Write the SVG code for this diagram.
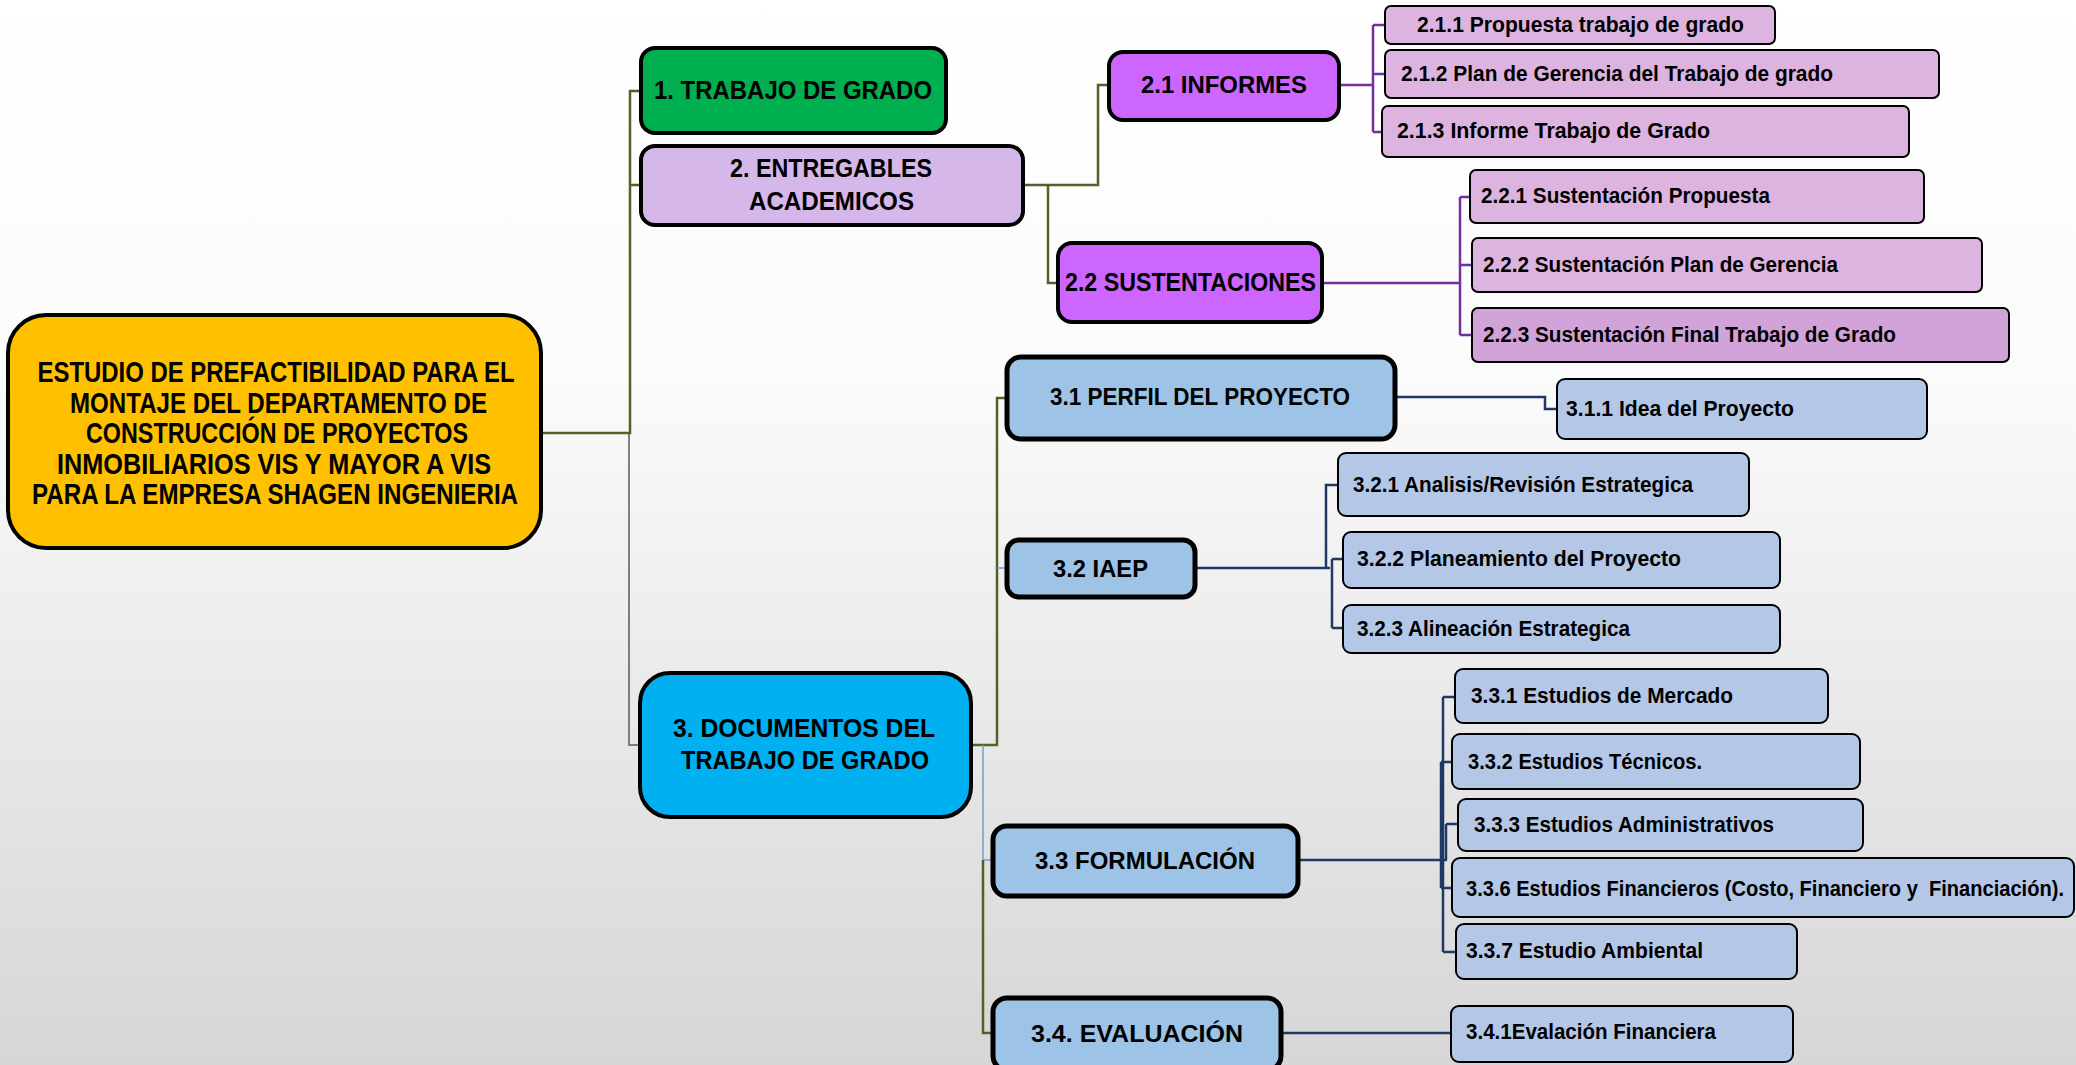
<svg xmlns="http://www.w3.org/2000/svg" width="2076" height="1065" viewBox="0 0 2076 1065">
<defs>
<linearGradient id="bg" x1="0" y1="0" x2="0" y2="1">
<stop offset="0" stop-color="#FFFFFF"/>
<stop offset="0.35" stop-color="#FBFBFB"/>
<stop offset="1" stop-color="#D6D6D6"/>
</linearGradient>
<style>
text{font-family:"Liberation Sans",Arial,sans-serif;font-weight:bold;fill:#000;}
.box{stroke:#000;}
.l0{stroke-width:4;}
.l1{stroke-width:4;}
.l2{stroke-width:5;}
.lf{stroke-width:2;}
.c{fill:none;}
.gr{stroke:#4F6228;stroke-width:2.5;}
.gy{stroke:#595959;stroke-width:1.5;}
.pu{stroke:#7030A0;stroke-width:2.5;}
.nv{stroke:#1F3864;stroke-width:2.5;}
.lb{stroke:#6FA0D0;stroke-width:1.5;}
.t30{font-size:30px;}
.t26{font-size:26px;}
.t25{font-size:25px;}
.t24{font-size:24px;}
.t23{font-size:23px;}
.t21{font-size:21.5px;}
</style>
</defs>
<rect x="0" y="0" width="2076" height="1065" fill="url(#bg)"/>

<g id="connectors" class="c">
<path class="gr" d="M541,433 H630 V91 H641"/>
<path class="gy" d="M629,433 V745 H640"/>
<path class="gr" stroke="#76923C" d="M630,185 H641"/>
<path class="gr" d="M1023,185 H1098 V85 H1109"/>
<path class="gr" d="M1048,185 V283 H1058"/>
<path class="pu" d="M1339,85 H1373"/>
<path class="pu" d="M1373,25 V132"/>
<path class="pu" d="M1373,25 H1385 M1373,74 H1385 M1373,132 H1382"/>
<path class="pu" d="M1322,283 H1460"/>
<path class="pu" d="M1460,197 V335"/>
<path class="pu" d="M1460,197 H1470 M1460,265 H1472 M1460,335 H1472"/>
<path class="gr" d="M971,745 H997 V398 H1007"/>
<path class="lb" d="M997,568 H1007"/>
<path class="lb" d="M983,745 V860 H993"/>
<path class="gr" d="M983,860 V1033 H993"/>
<path class="nv" d="M1395,397 H1545 V409 H1557"/>
<path class="nv" d="M1195,568 H1330"/>
<path class="nv" d="M1326,568 V485 H1338"/>
<path class="nv" d="M1332,559 V628"/>
<path class="nv" d="M1332,559 H1343 M1332,628 H1343"/>
<path class="nv" d="M1297,860 H1447"/>
<path class="nv" d="M1443,697 V952"/>
<path class="nv" d="M1441,762 V888"/>
<path class="nv" d="M1446,824 V860"/>
<path class="nv" d="M1443,697 H1455 M1441,762 H1452 M1446,824 H1458 M1441,888 H1452 M1443,952 H1456"/>
<path class="nv" stroke="#2F4B7C" stroke-width="2" d="M1281,1033 H1451"/>
</g>

<g id="root">
<rect class="box l0" x="8" y="315" width="533" height="233" rx="38" fill="#FFC000"/>
<text class="t30" x="37.5" y="382" textLength="477" lengthAdjust="spacingAndGlyphs">ESTUDIO DE PREFACTIBILIDAD PARA EL</text>
<text class="t30" x="70" y="412.5" textLength="417" lengthAdjust="spacingAndGlyphs">MONTAJE DEL DEPARTAMENTO DE</text>
<text class="t30" x="86" y="443" textLength="382" lengthAdjust="spacingAndGlyphs">CONSTRUCCIÓN DE PROYECTOS</text>
<text class="t30" x="57" y="473.5" textLength="434" lengthAdjust="spacingAndGlyphs">INMOBILIARIOS VIS Y MAYOR A VIS</text>
<text class="t30" x="32" y="504" textLength="486" lengthAdjust="spacingAndGlyphs">PARA LA EMPRESA SHAGEN INGENIERIA</text>
</g>

<g id="n1">
<rect class="box l1" x="641" y="48" width="305" height="85" rx="14" fill="#00B050"/>
<text class="t26" x="654" y="99" textLength="278" lengthAdjust="spacingAndGlyphs">1. TRABAJO DE GRADO</text>
</g>

<g id="n2">
<rect class="box l1" x="641" y="146" width="382" height="79" rx="14" fill="#D5B7EA"/>
<text class="t25" x="730" y="177" textLength="202" lengthAdjust="spacingAndGlyphs">2. ENTREGABLES</text>
<text class="t25" x="749" y="210" textLength="165" lengthAdjust="spacingAndGlyphs">ACADEMICOS</text>
</g>

<g id="n2-1">
<rect class="box l1" x="1109" y="52" width="230" height="68" rx="14" fill="#CC66FF"/>
<text class="t24" x="1141" y="93" textLength="166" lengthAdjust="spacingAndGlyphs">2.1 INFORMES</text>
</g>

<g id="n2-2">
<rect class="box l1" x="1058" y="243" width="264" height="79" rx="14" fill="#CC66FF"/>
<text class="t25" x="1065" y="291" textLength="251" lengthAdjust="spacingAndGlyphs">2.2 SUSTENTACIONES</text>
</g>

<g id="n2-1-1">
<rect class="box lf" x="1385" y="6" width="390" height="38" rx="6" fill="#DCB4DF"/>
<text class="t21" x="1417" y="32" textLength="327" lengthAdjust="spacingAndGlyphs">2.1.1 Propuesta trabajo de grado</text>
</g>
<g id="n2-1-2">
<rect class="box lf" x="1385" y="50" width="554" height="48" rx="6" fill="#DCB4DF"/>
<text class="t21" x="1401" y="81" textLength="432" lengthAdjust="spacingAndGlyphs">2.1.2 Plan de Gerencia del Trabajo de grado</text>
</g>
<g id="n2-1-3">
<rect class="box lf" x="1382" y="106" width="527" height="51" rx="6" fill="#DCB4DF"/>
<text class="t21" x="1397" y="138" textLength="313" lengthAdjust="spacingAndGlyphs">2.1.3 Informe Trabajo de Grado</text>
</g>
<g id="n2-2-1">
<rect class="box lf" x="1470" y="170" width="454" height="53" rx="6" fill="#DCB4DF"/>
<text class="t21" x="1481" y="203" textLength="289" lengthAdjust="spacingAndGlyphs">2.2.1 Sustentación Propuesta</text>
</g>
<g id="n2-2-2">
<rect class="box lf" x="1472" y="238" width="510" height="54" rx="6" fill="#DCB4DF"/>
<text class="t21" x="1483" y="272" textLength="355" lengthAdjust="spacingAndGlyphs">2.2.2 Sustentación Plan de Gerencia</text>
</g>
<g id="n2-2-3">
<rect class="box lf" x="1472" y="308" width="537" height="54" rx="6" fill="#D1A3D8"/>
<text class="t21" x="1483" y="342" textLength="413" lengthAdjust="spacingAndGlyphs">2.2.3 Sustentación Final Trabajo de Grado</text>
</g>

<g id="n3">
<rect class="box l1" x="640" y="673" width="331" height="144" rx="30" fill="#00B0F0"/>
<text class="t25" x="673" y="737" textLength="262" lengthAdjust="spacingAndGlyphs">3. DOCUMENTOS DEL</text>
<text class="t25" x="681" y="769" textLength="248" lengthAdjust="spacingAndGlyphs">TRABAJO DE GRADO</text>
</g>

<g id="n3-1">
<rect class="box l2" x="1007" y="357" width="388" height="82" rx="14" fill="#9DC3E6"/>
<text class="t23" x="1050" y="405" textLength="300" lengthAdjust="spacingAndGlyphs">3.1 PERFIL DEL PROYECTO</text>
</g>
<g id="n3-2">
<rect class="box l2" x="1007" y="540" width="188" height="57" rx="12" fill="#9DC3E6"/>
<text class="t23" x="1053" y="577" textLength="95" lengthAdjust="spacingAndGlyphs">3.2 IAEP</text>
</g>
<g id="n3-3">
<rect class="box l2" x="993" y="826" width="305" height="70" rx="14" fill="#9DC3E6"/>
<text class="t23" x="1035" y="869" textLength="220" lengthAdjust="spacingAndGlyphs">3.3 FORMULACIÓN</text>
</g>
<g id="n3-4">
<rect class="box l2" x="993" y="998" width="288" height="72" rx="14" fill="#9DC3E6"/>
<text class="t23" x="1031" y="1042" textLength="212" lengthAdjust="spacingAndGlyphs">3.4. EVALUACIÓN</text>
</g>

<g id="n3-1-1">
<rect class="box lf" x="1557" y="379" width="370" height="60" rx="8" fill="#B4C7E7"/>
<text class="t21" x="1566" y="416" textLength="228" lengthAdjust="spacingAndGlyphs">3.1.1 Idea del Proyecto</text>
</g>
<g id="n3-2-1">
<rect class="box lf" x="1338" y="453" width="411" height="63" rx="8" fill="#B4C7E7"/>
<text class="t21" x="1353" y="492" textLength="340" lengthAdjust="spacingAndGlyphs">3.2.1 Analisis/Revisión Estrategica</text>
</g>
<g id="n3-2-2">
<rect class="box lf" x="1343" y="532" width="437" height="56" rx="8" fill="#B4C7E7"/>
<text class="t21" x="1357" y="566" textLength="324" lengthAdjust="spacingAndGlyphs">3.2.2 Planeamiento del Proyecto</text>
</g>
<g id="n3-2-3">
<rect class="box lf" x="1343" y="605" width="437" height="48" rx="8" fill="#B4C7E7"/>
<text class="t21" x="1357" y="636" textLength="273" lengthAdjust="spacingAndGlyphs">3.2.3 Alineación Estrategica</text>
</g>
<g id="n3-3-1">
<rect class="box lf" x="1455" y="669" width="373" height="54" rx="8" fill="#B4C7E7"/>
<text class="t21" x="1471" y="703" textLength="262" lengthAdjust="spacingAndGlyphs">3.3.1 Estudios de Mercado</text>
</g>
<g id="n3-3-2">
<rect class="box lf" x="1452" y="734" width="408" height="55" rx="8" fill="#B4C7E7"/>
<text class="t21" x="1468" y="769" textLength="234" lengthAdjust="spacingAndGlyphs">3.3.2 Estudios Técnicos.</text>
</g>
<g id="n3-3-3">
<rect class="box lf" x="1458" y="799" width="405" height="52" rx="8" fill="#B4C7E7"/>
<text class="t21" x="1474" y="832" textLength="300" lengthAdjust="spacingAndGlyphs">3.3.3 Estudios Administrativos</text>
</g>
<g id="n3-3-6">
<rect class="box lf" x="1452" y="858" width="622" height="59" rx="8" fill="#B4C7E7"/>
<text class="t21" x="1466" y="896" textLength="598" lengthAdjust="spacingAndGlyphs" xml:space="preserve">3.3.6 Estudios Financieros (Costo, Financiero y  Financiación).</text>
</g>
<g id="n3-3-7">
<rect class="box lf" x="1456" y="924" width="341" height="55" rx="8" fill="#B4C7E7"/>
<text class="t21" x="1466" y="958" textLength="237" lengthAdjust="spacingAndGlyphs">3.3.7 Estudio Ambiental</text>
</g>
<g id="n3-4-1">
<rect class="box lf" x="1451" y="1006" width="342" height="56" rx="8" fill="#B4C7E7"/>
<text class="t21" x="1466" y="1039" textLength="250" lengthAdjust="spacingAndGlyphs">3.4.1Evalación Financiera</text>
</g>
</svg>
